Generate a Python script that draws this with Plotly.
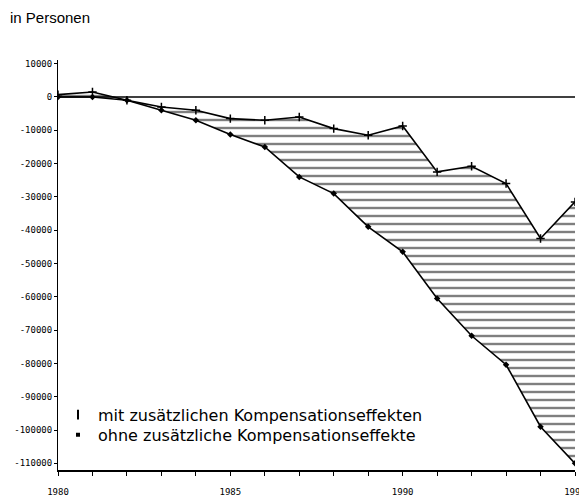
import plotly.graph_objects as go

years = list(range(1980, 1996))
mit = [700, 1500, -1000, -3000, -4000, -6500, -7000, -6000, -9500, -11500,
       -8700, -22500, -20800, -26000, -42500, -31500]
ohne = [0, 0, -1000, -4000, -7000, -11300, -15000, -24000, -29000, -39000,
        -46500, -60500, -71700, -80400, -99000, -110000]
y_ticks = list(range(10000, -110001, -10000))
x_labels = {1980: "1980", 1985: "1985", 1990: "1990", 1995: "1995"}

label_mit = "mit zusätzlichen Kompensationseffekten"
label_ohne = "ohne zusätzliche Kompensationseffekte"

fig = go.Figure()

fig.add_trace(go.Scatter(
    x=years, y=ohne, mode="lines+markers", showlegend=False,
    line=dict(color="black", width=1.6),
    marker=dict(symbol="diamond", size=5, color="black"),
))
fig.add_trace(go.Scatter(
    x=years, y=mit, mode="lines+markers", showlegend=False,
    line=dict(color="black", width=1.6),
    marker=dict(symbol="cross-thin", size=6, line=dict(color="black", width=1.5)),
    fill="tonexty", fillcolor="white",
    fillpattern=dict(shape="-", size=8, solidity=0.3, fgcolor="black", bgcolor="white"),
))

# legend entries (one legend box each, so the row spacing can follow the original)
fig.add_trace(go.Scatter(
    x=[None], y=[None], mode="markers", name=label_mit, legend="legend",
    marker=dict(symbol="line-ns", size=7, line=dict(color="black", width=2)),
))
fig.add_trace(go.Scatter(
    x=[None], y=[None], mode="markers", name=label_ohne, legend="legend2",
    marker=dict(symbol="square", size=4, color="black"),
))

fig.add_hline(y=0, line=dict(color="black", width=1.5))

legend_common = dict(
    xanchor="left", yanchor="middle", bgcolor="rgba(0,0,0,0)",
    font=dict(family="DejaVu Sans, sans-serif", size=16, color="black"),
    itemwidth=30,
)

fig.update_layout(
    width=579, height=496,
    margin=dict(l=50, r=12, t=52, b=34),
    paper_bgcolor="white", plot_bgcolor="white",
    font=dict(family="Liberation Sans, Arial, sans-serif", color="black"),
    annotations=[dict(
        text="in Personen", xref="paper", yref="paper",
        x=-0.097, y=1.0, yshift=32, xanchor="left", yanchor="bottom",
        showarrow=False, font=dict(size=15, color="black"),
    )],
    legend=dict(x=0.0, y=0.135, **legend_common),
    legend2=dict(x=0.0, y=0.086, **legend_common),
    xaxis=dict(
        range=[1980, 1995], showgrid=False, zeroline=False, automargin=False,
        showline=True, linecolor="black", linewidth=1.8,
        tickmode="array", tickvals=years,
        ticktext=[x_labels.get(y, "") for y in years],
        ticks="outside", ticklen=4, tickcolor="black", tickwidth=1,
        ticklabelstandoff=8,
        tickfont=dict(family="DejaVu Sans Mono, monospace", size=9, color="black"),
    ),
    yaxis=dict(
        range=[-112000, 11100], showgrid=False, zeroline=False, automargin=False,
        showline=True, linecolor="black", linewidth=1,
        tickmode="array", tickvals=y_ticks, ticktext=[str(v) for v in y_ticks],
        ticks="outside", ticklen=3, tickcolor="black",
        tickfont=dict(family="DejaVu Sans Mono, monospace", size=9, color="black"),
    ),
)

fig.write_html("out.html")
